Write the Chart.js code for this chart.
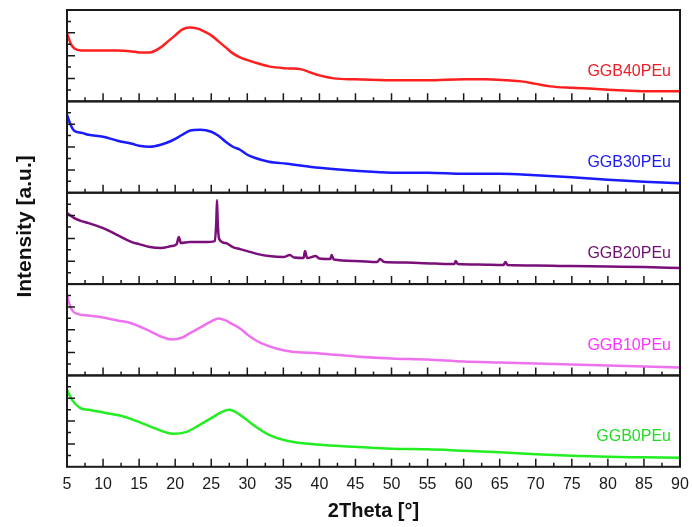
<!DOCTYPE html>
<html>
<head>
<meta charset="utf-8">
<title>XRD GGB PEu</title>
<script src="https://cdn.jsdelivr.net/npm/chart.js@4.4.0/dist/chart.umd.min.js"></script>
<style>
  html, body { margin: 0; padding: 0; background: #fff; }
</style>
</head>
<body>
<canvas id="graficoXRD" width="692" height="527"></canvas>
<script>
// amostras, de cima para baixo
const amostras = ['GGB40PEu', 'GGB30PEu', 'GGB20PEu', 'GGB10PEu', 'GGB0PEu'];
const coresLinha = ['#ff1f1f', '#1a1aff', '#7a0f7a', '#ee72ee', '#22ee22'];
const coresTexto = ['#e8202a', '#1a1aee', '#6e1070', '#ff33ff', '#22dd22'];

// eixo x (2Theta)
const xTicks = [5, 10, 15, 20, 25, 30, 35, 40, 45, 50, 55, 60, 65, 70, 75, 80, 85, 90];

// intensidades (unidade arbitraria, cada painel 0..91.4)
const theta40 = [5, 5.5, 6, 7, 8, 10, 12, 14, 15, 16.5, 18, 19, 20, 21, 22, 23, 24, 25, 26, 27, 28, 29, 31, 33, 35.5, 37.5, 38.7, 40, 42, 45, 50, 55, 60, 63, 66, 68, 70, 72, 75, 78, 80, 83, 86, 90];
const int40 = [68, 58, 53, 51, 51, 51, 51, 50, 49, 49, 54, 60, 66, 72, 74, 73, 70, 66, 60, 54, 48, 44, 39, 35, 33, 32, 29, 26, 23, 22, 21, 21, 22, 22, 21, 20, 17.5, 15, 13.5, 12.5, 11.5, 10.5, 10, 10];

const theta30 = [5, 5.5, 6, 7, 8, 10, 12, 14, 15, 16.5, 18, 19.5, 21, 22, 23.5, 25, 26, 27, 28, 29, 30, 31, 33, 35.5, 40, 45, 50, 55, 60, 65, 70, 75, 80, 85, 90];
const int30 = [78, 68, 62, 60, 58, 56, 52, 49, 47, 46, 48, 52, 58, 62, 63, 61, 57, 51, 46, 43, 38, 35, 31, 29, 25, 22, 20, 20, 19, 19, 17.5, 15.5, 13, 11, 9.5];

const theta20 = [5, 6, 7, 8, 10, 12, 14, 15, 16.5, 18, 19.5, 20.2, 20.5, 20.8, 22, 24, 25.5, 25.7, 25.8, 25.9, 26.1, 27, 28, 29, 30, 31.5, 33, 35, 35.9, 36.5, 37.8, 38, 38.3, 39.5, 40, 41.5, 41.7, 42, 45, 48, 48.4, 49, 52, 56, 58.7, 58.9, 59.2, 62, 65.5, 65.8, 66.1, 70, 75, 80, 85, 90];
const int20 = [71, 66, 63, 61, 56, 49, 42, 40, 37, 36, 38, 40, 47, 41, 42, 42, 43, 62, 84, 62, 45, 41, 37, 35, 33, 30, 28, 27, 29, 26.5, 26, 33, 26, 28, 25.5, 25, 29, 24.5, 23, 22, 25, 22, 21.5, 20.5, 20, 23, 20, 19.5, 19, 22, 19, 18.5, 18, 17.5, 17, 16];

const theta10 = [5, 5.5, 6, 8, 10, 12, 14, 16, 18, 19.5, 21, 22, 23.5, 25, 26, 27, 28, 29, 30, 31, 32, 34, 36, 40, 45, 50, 55, 60, 65, 70, 75, 80, 85, 90];
const int10 = [80, 68, 63, 60, 58, 55, 52, 46, 39, 36, 38, 42, 48, 54, 57, 55, 51, 47, 41, 36, 32, 27, 24, 22, 19, 17, 16, 14, 13, 12, 11, 10, 9, 8];

const theta0 = [5, 5.7, 6.8, 8, 9.6, 11, 12.5, 14.2, 17, 19.7, 21.6, 23.4, 25.3, 26.5, 27.5, 29, 30.8, 33, 35.5, 40, 45, 50, 55, 60, 65, 70, 75, 80, 85, 90];
const int0 = [77, 67, 59, 57, 55, 53, 51, 47, 39, 33, 35, 42, 50, 55, 57, 52, 42, 32, 26, 22, 20, 18, 17.5, 16, 14.5, 12.5, 11, 10, 9.5, 9];

const thetas = [theta40, theta30, theta20, theta10, theta0];
const intensidades = [int40, int30, int20, int10, int0];
const painelIds = ['p40', 'p30', 'p20', 'p10', 'p0'];

const fonte = '"Liberation Sans", Arial, sans-serif';
Chart.defaults.font.family = fonte;

const datasets = amostras.map((nome, i) => ({
  label: nome,
  data: thetas[i].map((t, k) => ({ x: t, y: intensidades[i][k] })),
  yAxisID: painelIds[i],
  borderColor: coresLinha[i],
  borderWidth: 2.5,
  pointRadius: 0,
  cubicInterpolationMode: 'monotone',
  fill: false
}));

const escalas = {
  x: {
    type: 'linear',
    min: 5,
    max: 90,
    afterBuildTicks: (s) => { s.ticks = xTicks.map(v => ({ value: v })); },
    afterFit: (s) => { s.paddingLeft = 0; s.paddingRight = 0; },
    ticks: { font: { size: 16 }, color: '#1a1a1a', padding: 0, maxRotation: 0 },
    grid: { display: false },
    border: { display: false },
    title: {
      display: true,
      text: '2Theta [°]',
      color: '#111',
      font: { size: 20, weight: 'bold', lineHeight: 0.75 },
      padding: { top: 10, bottom: 0 }
    }
  }
};
// no stack o primeiro eixo fica embaixo, entao declara de baixo para cima
painelIds.slice().reverse().forEach((id) => {
  escalas[id] = {
    type: 'linear',
    position: 'left',
    stack: 'xrd',
    stackWeight: 1,
    min: 0,
    max: 91.4,
    display: false,
    ticks: { stepSize: 91.4 / 8 }
  };
});

// moldura, ticks para dentro, nomes das amostras e titulo do eixo y
const molduraPlugin = {
  id: 'moldura',
  afterDatasetsDraw(chart) {
    const ctx = chart.ctx;
    const xs = chart.scales.x;
    ctx.save();
    ctx.strokeStyle = '#1a1a1a';
    painelIds.forEach((id, i) => {
      const ys = chart.scales[id];
      const top = ys.top, bot = ys.bottom;

      // ticks x (maiores a cada 5, menores no meio)
      ctx.lineWidth = 1.5;
      ctx.beginPath();
      xTicks.forEach((v) => {
        const px = xs.getPixelForValue(v);
        ctx.moveTo(px, bot); ctx.lineTo(px, bot - 8);
        if (v + 2.5 < 90) {
          const pm = xs.getPixelForValue(v + 2.5);
          ctx.moveTo(pm, bot); ctx.lineTo(pm, bot - 4);
        }
      });
      // ticks y
      for (let k = 1; k < 8; k++) {
        const py = ys.getPixelForValue(k * 91.4 / 8);
        const len = k % 2 === 0 ? 8 : 4;
        ctx.moveTo(xs.left, py); ctx.lineTo(xs.left + len, py);
      }
      ctx.stroke();

      ctx.lineWidth = 2;
      ctx.strokeRect(xs.left, top, xs.right - xs.left, bot - top);

      ctx.fillStyle = coresTexto[i];
      ctx.font = '16px ' + fonte;
      ctx.textAlign = 'right';
      ctx.textBaseline = 'middle';
      ctx.fillText(amostras[i], xs.right - 9, ys.getPixelForValue(30));
    });

    // titulo y
    const area = chart.chartArea;
    ctx.translate(25, (area.top + area.bottom) / 2 - 12);
    ctx.rotate(-Math.PI / 2);
    ctx.fillStyle = '#111';
    ctx.font = 'bold 21px ' + fonte;
    ctx.textAlign = 'center';
    ctx.textBaseline = 'middle';
    ctx.fillText('Intensity [a.u.]', 0, 0);
    ctx.restore();
  }
};

new Chart(document.getElementById('graficoXRD').getContext('2d'), {
  type: 'line',
  data: { datasets },
  options: {
    responsive: false,
    animation: false,
    devicePixelRatio: 1,
    layout: { padding: { left: 67, right: 12, top: 10, bottom: 8 } },
    plugins: {
      legend: { display: false },
      tooltip: { enabled: false }
    },
    scales: escalas
  },
  plugins: [molduraPlugin]
});
</script>
</body>
</html>
